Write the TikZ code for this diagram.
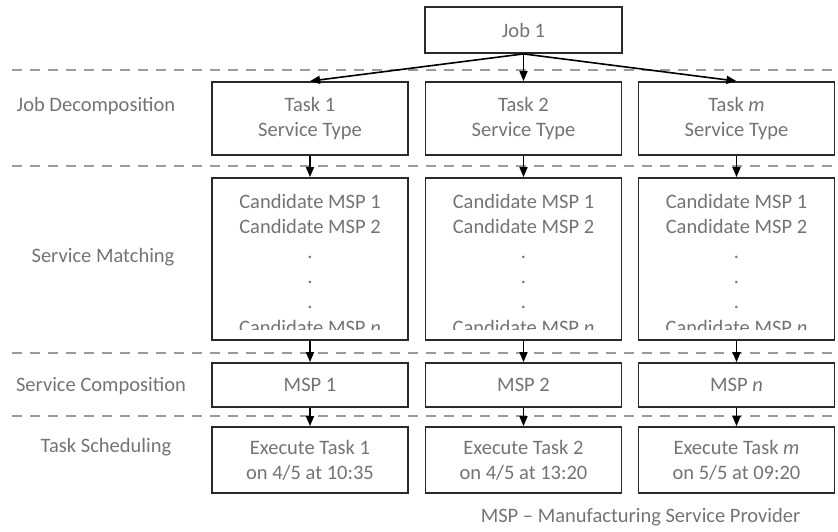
\documentclass[tikz,border=0pt]{standalone}
\usepackage{fontspec}
\setmainfont{Carlito}
\usetikzlibrary{arrows.meta}
\definecolor{txtgray}{HTML}{747474}
\definecolor{boxline}{HTML}{2A2A2A}
\definecolor{dashgray}{HTML}{9A9A9A}
\begin{document}
\begin{tikzpicture}[x=1pt,y=-1pt,
  every node/.style={font=\fontsize{20.5}{25}\selectfont, text=txtgray, inner sep=0pt},
  box/.style={draw=boxline, line width=1.8pt, fill=white, rectangle},
  colbox/.style={box, minimum width=196pt},
  lbl/.style={anchor=center},
  sep/.style={draw=dashgray, line width=2pt, dash pattern=on 10pt off 8pt},
  arr/.style={draw=black, line width=1.6pt, -{Triangle[length=10pt,width=8pt]}},
  txt/.style={align=center},
  candtxt/.style={align=center, font=\fontsize{20.5}{25.2}\selectfont}
]
\useasboundingbox (0,0) rectangle (838,531);

% separators
\foreach \y/\n in {70/a,166/b,353/c,416/d}{
  \coordinate (sl\n) at (12,\y);
  \coordinate (sr\n) at (838,\y);
  \draw[sep] (sl\n) -- (sr\n);
}

% labels
\node[lbl] (l1) at (96,106) {Job Decomposition};
\node[lbl] (l2) at (103,257) {Service Matching};
\node[lbl] (l3) at (101,386) {Service Composition};
\node[lbl] (l4) at (106,447) {Task Scheduling};

% job
\node[box, minimum width=197pt, minimum height=46pt] (job) at (523.5,30) {Job 1};

% tasks
\node[colbox, minimum height=73pt, txt] (t1) at (310,118.5) {Task 1\\Service Type};
\node[colbox, minimum height=73pt, txt] (t2) at (523.5,118.5) {Task 2\\Service Type};
\node[colbox, minimum height=73pt, txt] (t3) at (736.5,118.5) {Task \textit{m}\\Service Type};

% candidate boxes
\node[colbox, minimum height=162pt] (c1) at (310,259) {};
\node[colbox, minimum height=162pt] (c2) at (523.5,259) {};
\node[colbox, minimum height=162pt] (c3) at (736.5,259) {};
\begin{scope}
  \clip (212,179) rectangle (835,329);
  \node[candtxt] (c1t) at (310,264) {Candidate MSP 1\\Candidate MSP 2\\.\\.\\.\\Candidate MSP \textit{n}};
  \node[candtxt] (c2t) at (523.5,264) {Candidate MSP 1\\Candidate MSP 2\\.\\.\\.\\Candidate MSP \textit{n}};
  \node[candtxt] (c3t) at (736.5,264) {Candidate MSP 1\\Candidate MSP 2\\.\\.\\.\\Candidate MSP \textit{n}};
\end{scope}

% MSP boxes
\node[colbox, minimum height=44pt] (m1) at (310,385) {MSP 1};
\node[colbox, minimum height=44pt] (m2) at (523.5,385) {MSP 2};
\node[colbox, minimum height=44pt] (m3) at (736.5,385) {MSP \textit{n}};

% execute boxes
\node[colbox, minimum height=66pt, txt] (e1) at (310,460) {Execute Task 1\\on 4/5 at 10:35};
\node[colbox, minimum height=66pt, txt] (e2) at (523.5,460) {Execute Task 2\\on 4/5 at 13:20};
\node[colbox, minimum height=66pt, txt] (e3) at (736.5,460) {Execute Task \textit{m}\\on 5/5 at 09:20};

% arrows
\draw[arr] (job.south) -- (t1.north);
\draw[arr] (job.south) -- (t2.north);
\draw[arr] (job.south) -- (t3.north);
\foreach \i in {1,2,3}{
  \draw[arr] (t\i.south) -- (c\i.north);
  \draw[arr] (c\i.south) -- (m\i.north);
  \draw[arr] (m\i.south) -- (e\i.north);
}

% footnote
\node[lbl] (fn) at (640.5,517) {MSP -- Manufacturing Service Provider};
\end{tikzpicture}
\end{document}
